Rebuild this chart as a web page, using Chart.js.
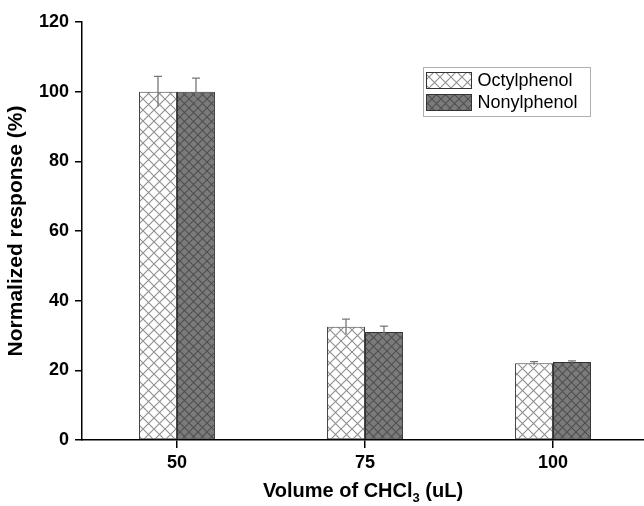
<!DOCTYPE html>
<html>
<head>
<meta charset="utf-8">
<script src="https://cdn.jsdelivr.net/npm/chart.js@4/dist/chart.umd.min.js"></script>
<style>
  html, body { margin: 0; padding: 0; background: #fff; }
  #wrap { width: 644px; height: 506px; }
</style>
</head>
<body>
<div id="wrap"><canvas id="chart" width="644" height="506"></canvas></div>
<script>
// datos
var volumes = [50, 75, 100];
var seriesNames = ["Octylphenol", "Nonylphenol"];
var octylValues = [100, 32.5, 22.0];
var nonylValues = [100, 31.0, 22.4];
var octylErrors = [4.4, 2.2, 0.5];
var nonylErrors = [3.9, 1.7, 0.3];
var yTicks = [0, 20, 40, 60, 80, 100, 120];

var FONT = "'Liberation Sans', Arial, 'DejaVu Sans', sans-serif";

// patron de rayado cruzado
function makeHatch(bg, line, size) {
  var c = document.createElement("canvas");
  c.width = size;
  c.height = size;
  var g = c.getContext("2d");
  g.fillStyle = bg;
  g.fillRect(0, 0, size, size);
  g.strokeStyle = line;
  g.lineWidth = 1.1;
  g.beginPath();
  g.moveTo(-1, -1); g.lineTo(size + 1, size + 1);
  g.moveTo(size + 1, -1); g.lineTo(-1, size + 1);
  g.stroke();
  return g.createPattern(c, "repeat");
}

var octylFill = makeHatch("#ffffff", "#8f8f8f", 11);
var nonylFill = makeHatch("#7b7b7b", "#4f4f4f", 9);

// barras de error
var errorBars = {
  id: "errorBars",
  afterDatasetsDraw: function (chart) {
    var ctx = chart.ctx;
    var yScale = chart.scales.y;
    ctx.save();
    ctx.strokeStyle = "#777";
    ctx.lineWidth = 1.3;
    chart.data.datasets.forEach(function (ds, i) {
      var meta = chart.getDatasetMeta(i);
      meta.data.forEach(function (bar, j) {
        var v = ds.data[j].y;
        var e = ds.errors[j];
        var top = yScale.getPixelForValue(v + e);
        var bot = yScale.getPixelForValue(v - e);
        ctx.beginPath();
        ctx.moveTo(bar.x, top);
        ctx.lineTo(bar.x, bot);
        ctx.moveTo(bar.x - 4, top);
        ctx.lineTo(bar.x + 4, top);
        ctx.stroke();
      });
    });
    ctx.restore();
  }
};

// leyenda con marco y titulo del eje x con subindice
var extras = {
  id: "extras",
  afterDraw: function (chart) {
    var ctx = chart.ctx;
    var area = chart.chartArea;
    ctx.save();

    // leyenda
    var lx = 423.5, ly = 67.5;
    ctx.strokeStyle = "#b0b0b0";
    ctx.lineWidth = 1;
    ctx.strokeRect(lx, ly, 167, 49);
    ctx.font = "18px " + FONT;
    ctx.textBaseline = "middle";
    ctx.textAlign = "left";
    chart.data.datasets.forEach(function (ds, i) {
      var sy = ly + 5 + i * 22;
      ctx.fillStyle = ds.backgroundColor;
      ctx.fillRect(lx + 3, sy, 45, 16);
      ctx.strokeStyle = "#333";
      ctx.strokeRect(lx + 3, sy, 45, 16);
      ctx.fillStyle = "#000";
      ctx.fillText(ds.label, lx + 54, sy + 9);
    });

    // titulo eje x
    var bold = "bold 20px " + FONT;
    var sub = "bold 13px " + FONT;
    var p1 = "Volume of CHCl", p2 = "3", p3 = " (uL)";
    ctx.font = bold;
    var w1 = ctx.measureText(p1).width;
    var w3 = ctx.measureText(p3).width;
    ctx.font = sub;
    var w2 = ctx.measureText(p2).width;
    var x0 = (area.left + area.right) / 2 - (w1 + w2 + w3) / 2;
    var base = 497;
    ctx.textBaseline = "alphabetic";
    ctx.fillStyle = "#000";
    ctx.font = bold;
    ctx.fillText(p1, x0, base);
    ctx.font = sub;
    ctx.fillText(p2, x0 + w1, base + 5);
    ctx.font = bold;
    ctx.fillText(p3, x0 + w1 + w2, base);
    ctx.restore();
  }
};

var ctx = document.getElementById("chart").getContext("2d");
var chart = new Chart(ctx, {
  type: "bar",
  data: {
    datasets: [
      {
        label: seriesNames[0],
        data: volumes.map(function (v, i) { return { x: v, y: octylValues[i] }; }),
        errors: octylErrors,
        backgroundColor: octylFill,
        borderColor: "#444",
        borderWidth: 1,
        borderSkipped: false
      },
      {
        label: seriesNames[1],
        data: volumes.map(function (v, i) { return { x: v, y: nonylValues[i] }; }),
        errors: nonylErrors,
        backgroundColor: nonylFill,
        borderColor: "#333",
        borderWidth: 1,
        borderSkipped: false
      }
    ]
  },
  options: {
    responsive: false,
    animation: false,
    layout: { padding: { top: 22, right: 0, bottom: 0, left: 0 } },
    categoryPercentage: 0.404,
    barPercentage: 1.0,
    plugins: {
      legend: { display: false },
      tooltip: { enabled: false }
    },
    scales: {
      x: {
        type: "linear",
        offset: false,
        min: 37.37,
        max: 112.1,
        afterBuildTicks: function (scale) {
          scale.ticks = volumes.map(function (v) { return { value: v }; });
        },
        afterFit: function (scale) { scale.height = 66; },
        grid: { offset: false, drawOnChartArea: false, drawTicks: true, tickLength: 8, color: "#000", lineWidth: 1.5 },
        border: { display: true, color: "#000", width: 1.5 },
        ticks: {
          color: "#000",
          padding: 4,
          maxRotation: 0,
          font: { family: FONT, size: 18, weight: "bold" }
        },
        title: { display: false }
      },
      y: {
        min: 0,
        max: 120,
        afterBuildTicks: function (scale) {
          scale.ticks = yTicks.map(function (v) { return { value: v }; });
        },
        afterFit: function (scale) { scale.width = 82; },
        grid: { drawOnChartArea: false, drawTicks: true, tickLength: 7, color: "#000", lineWidth: 1.5 },
        border: { display: true, color: "#000", width: 1.5 },
        ticks: {
          color: "#000",
          padding: 6,
          font: { family: FONT, size: 18, weight: "bold" }
        },
        title: {
          display: true,
          text: "Normalized response (%)",
          color: "#000",
          padding: { top: 4, bottom: 0 },
          font: { family: FONT, size: 21, weight: "bold" }
        }
      }
    }
  },
  plugins: [errorBars, extras]
});
</script>
</body>
</html>
